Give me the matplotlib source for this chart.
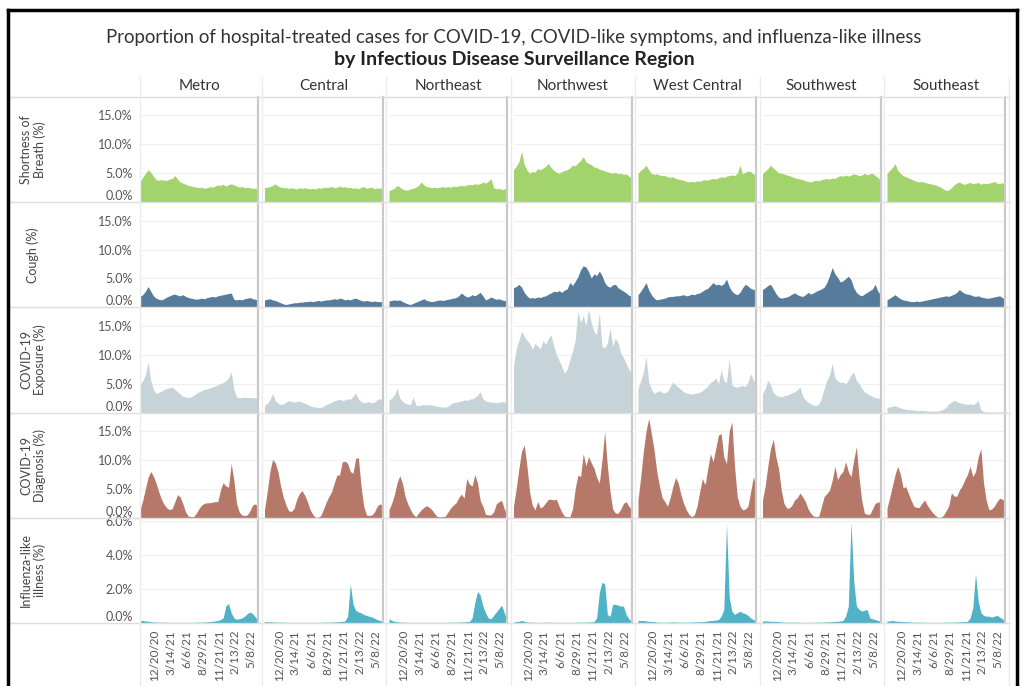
import matplotlib
matplotlib.use("Agg")
import matplotlib.pyplot as plt
from matplotlib.lines import Line2D
import pandas as pd

plt.rcParams['font.family'] = ['Lato', 'DejaVu Sans']

# ---------------- data ----------------
regions = ["Metro", "Central", "Northeast", "Northwest", "West Central", "Southwest", "Southeast"]
measure_labels = ["Shortness of\nBreath (%)", "Cough (%)", "COVID-19\nExposure (%)",
                  "COVID-19\nDiagnosis (%)", "Influenza-like\nillness (%)"]
dates = pd.date_range("2020-10-04", periods=45, freq="14D")
tick_dates = pd.to_datetime(["2020-12-20", "2021-03-14", "2021-06-06", "2021-08-29",
                             "2021-11-21", "2022-02-13", "2022-05-08"])
tick_labels = ["12/20/20", "3/14/21", "6/6/21", "8/29/21", "11/21/21", "2/13/22", "5/8/22"]
y_ticks_main = [0, 5, 10, 15]
y_ticks_ili = [0, 2, 4, 6]

# Shortness of breath (%)
sob_metro = [3.5, 4.3, 5.0, 5.6, 5.2, 4.5, 3.9, 3.8, 3.9, 3.8, 3.8, 4.0, 4.1, 4.6, 4.0, 3.5, 3.3, 3.1, 2.9, 2.8, 2.7, 2.6, 2.5, 2.6, 2.4, 2.5, 2.7, 2.6, 2.8, 3.0, 2.9, 3.1, 2.8, 3.0, 3.2, 3.0, 2.8, 2.6, 2.7, 2.5, 2.6, 2.5, 2.4, 2.4, 2.3]
sob_central = [2.5, 2.6, 2.7, 2.9, 3.2, 2.8, 2.6, 2.5, 2.5, 2.4, 2.5, 2.4, 2.3, 2.5, 2.4, 2.5, 2.4, 2.3, 2.4, 2.3, 2.5, 2.4, 2.6, 2.5, 2.6, 2.7, 2.5, 2.6, 2.8, 2.6, 2.7, 2.5, 2.6, 2.4, 2.5, 2.3, 2.6, 2.7, 2.4, 2.5, 2.6, 2.3, 2.5, 2.4, 2.5]
sob_northeast = [2.0, 2.2, 2.4, 2.9, 2.6, 2.3, 2.1, 2.1, 2.3, 2.4, 2.6, 2.9, 3.5, 3.0, 2.7, 2.6, 2.5, 2.6, 2.5, 2.6, 2.7, 2.6, 2.7, 2.6, 2.8, 2.7, 2.8, 2.9, 2.8, 3.0, 3.1, 3.0, 3.2, 3.1, 3.2, 3.5, 3.3, 3.6, 4.1, 2.5, 2.3, 2.4, 2.2, 2.3, 2.3]
sob_northwest = [5.6, 6.2, 7.0, 8.8, 6.5, 5.6, 5.0, 5.3, 5.2, 5.8, 5.6, 5.9, 6.2, 6.7, 6.0, 5.5, 5.2, 5.0, 5.3, 5.5, 5.6, 5.9, 6.4, 6.3, 6.8, 7.2, 7.9, 7.0, 6.7, 6.5, 6.1, 6.0, 5.7, 5.6, 5.4, 5.3, 5.1, 5.0, 5.2, 4.9, 5.0, 4.8, 4.9, 4.5, 4.1]
sob_westcentral = [5.0, 5.5, 5.9, 6.4, 5.6, 5.0, 4.8, 4.9, 4.7, 4.6, 4.6, 4.4, 4.3, 4.4, 4.1, 4.0, 3.9, 3.8, 3.6, 3.5, 3.6, 3.5, 3.7, 3.6, 3.8, 3.9, 3.8, 4.0, 4.1, 4.0, 4.2, 4.4, 4.3, 4.5, 4.6, 4.7, 4.6, 5.0, 6.4, 4.9, 5.2, 5.4, 5.3, 4.9, 4.5]
sob_southwest = [5.0, 5.4, 5.8, 6.4, 5.9, 5.5, 5.1, 5.0, 4.9, 4.7, 4.6, 4.4, 4.2, 4.1, 4.0, 3.9, 3.7, 3.6, 3.5, 3.7, 3.8, 3.7, 3.9, 4.0, 4.1, 4.0, 4.2, 4.1, 4.4, 4.6, 4.5, 4.7, 4.5, 4.7, 4.9, 4.8, 4.6, 4.7, 5.0, 4.7, 4.9, 5.0, 4.6, 4.3, 3.8]
sob_southeast = [5.0, 5.5, 6.0, 6.7, 5.5, 5.0, 4.6, 4.4, 4.2, 4.0, 3.8, 3.6, 3.5, 3.6, 3.4, 3.3, 3.2, 3.1, 3.0, 2.8, 2.6, 2.3, 2.0, 2.1, 2.5, 3.0, 3.3, 3.5, 3.2, 3.1, 3.3, 3.4, 3.2, 3.3, 3.4, 3.1, 3.3, 3.2, 3.3, 3.4, 3.6, 3.3, 3.2, 3.4, 2.9]

# Cough (%)
cough_metro = [1.9, 2.2, 2.8, 3.6, 2.8, 2.0, 1.6, 1.4, 1.3, 1.5, 1.8, 2.0, 2.2, 2.3, 2.1, 2.0, 2.2, 1.9, 1.7, 1.6, 1.5, 1.4, 1.5, 1.6, 1.5, 1.7, 1.8, 1.9, 1.8, 2.0, 2.1, 2.2, 2.3, 2.4, 2.5, 1.4, 1.3, 1.4, 1.3, 1.5, 1.6, 1.7, 1.5, 1.4, 1.3]
cough_central = [1.3, 1.4, 1.5, 1.3, 1.2, 1.0, 0.8, 0.6, 0.5, 0.6, 0.7, 0.8, 0.8, 0.9, 0.9, 1.0, 1.0, 1.1, 1.0, 1.1, 1.2, 1.1, 1.2, 1.3, 1.3, 1.4, 1.5, 1.4, 1.6, 1.5, 1.3, 1.4, 1.3, 1.5, 1.6, 1.4, 1.2, 1.1, 1.2, 1.1, 1.0, 1.1, 1.0, 1.0, 1.0]
cough_northeast = [1.1, 1.2, 1.3, 1.2, 1.3, 1.0, 0.8, 0.6, 0.5, 0.7, 0.9, 1.1, 1.3, 1.5, 1.2, 1.1, 1.0, 1.1, 1.2, 1.3, 1.2, 1.3, 1.4, 1.5, 1.6, 1.7, 2.0, 2.5, 2.1, 1.8, 1.9, 2.2, 2.0, 2.3, 2.6, 2.0, 1.3, 1.5, 1.8, 1.6, 1.4, 1.5, 1.3, 1.2, 1.1]
cough_northwest = [3.4, 3.6, 4.0, 3.5, 2.6, 2.0, 1.6, 1.7, 1.6, 1.8, 1.7, 1.9, 2.0, 2.3, 2.5, 2.8, 2.7, 2.9, 2.6, 3.0, 3.2, 4.3, 3.8, 4.5, 5.3, 6.5, 7.2, 7.0, 6.2, 5.1, 5.8, 5.5, 6.3, 5.5, 4.3, 3.7, 3.5, 3.9, 4.0, 3.4, 3.1, 2.8, 2.5, 2.1, 1.9]
cough_westcentral = [2.2, 2.8, 3.5, 4.3, 3.0, 2.2, 1.6, 1.3, 1.4, 1.5, 1.6, 1.8, 1.9, 1.9, 2.0, 2.0, 2.1, 2.2, 2.0, 2.1, 2.3, 2.2, 2.4, 2.5, 2.8, 3.1, 3.3, 3.8, 4.3, 3.9, 4.0, 3.8, 4.1, 4.9, 3.6, 2.8, 2.4, 2.2, 2.6, 3.4, 4.0, 3.7, 3.3, 3.1, 3.0]
cough_southwest = [3.1, 3.4, 3.8, 4.0, 3.2, 2.4, 1.8, 1.6, 1.7, 1.8, 2.0, 2.3, 2.5, 2.2, 2.0, 1.9, 2.2, 2.6, 2.3, 2.5, 2.8, 3.0, 3.2, 3.5, 4.3, 5.5, 6.9, 5.8, 5.2, 4.4, 4.6, 5.0, 5.4, 4.8, 3.4, 2.6, 2.2, 2.0, 2.3, 2.6, 2.9, 3.2, 4.0, 2.8, 2.2]
cough_southeast = [1.3, 1.6, 1.9, 2.2, 1.8, 1.5, 1.3, 1.2, 1.1, 1.0, 1.0, 1.1, 1.0, 1.1, 1.2, 1.3, 1.4, 1.5, 1.6, 1.7, 1.8, 1.9, 2.0, 1.9, 2.1, 2.3, 2.6, 3.1, 2.7, 2.4, 2.3, 2.2, 2.0, 1.9, 2.0, 1.8, 1.7, 1.6, 1.6, 1.7, 1.8, 1.9, 2.0, 1.7, 1.4]

# COVID-19 exposure (%)
exp_metro = [5.0, 5.5, 6.5, 8.8, 5.6, 4.0, 3.3, 3.5, 3.7, 4.0, 4.2, 4.3, 4.4, 4.0, 3.6, 3.2, 2.8, 2.7, 2.6, 2.7, 3.0, 3.3, 3.6, 3.8, 4.0, 4.1, 4.3, 4.4, 4.6, 4.8, 5.0, 5.2, 5.5, 6.0, 7.1, 4.0, 2.7, 2.6, 2.6, 2.7, 2.6, 2.6, 2.6, 2.5, 2.6]
exp_central = [1.2, 1.6, 2.2, 3.3, 2.1, 1.6, 1.4, 1.5, 1.8, 2.1, 1.9, 1.8, 1.9, 2.0, 1.8, 1.6, 1.4, 1.2, 1.0, 1.0, 0.9, 0.9, 1.1, 1.4, 1.6, 1.8, 2.0, 2.2, 2.3, 2.1, 2.2, 2.4, 2.3, 2.8, 3.4, 2.4, 1.9, 1.7, 1.8, 1.9, 1.7, 1.8, 2.2, 2.4, 2.3]
exp_northeast = [2.1, 2.5, 3.0, 4.2, 2.5, 2.0, 1.6, 1.5, 1.4, 2.7, 1.3, 1.2, 1.3, 1.4, 1.3, 1.4, 1.3, 1.2, 1.1, 1.0, 1.0, 0.9, 1.1, 1.5, 1.7, 1.8, 1.9, 2.0, 2.2, 2.1, 2.3, 2.4, 2.6, 3.0, 3.6, 2.4, 2.0, 1.9, 1.8, 1.8, 1.7, 1.8, 1.9, 1.8, 1.7]
exp_northwest = [8.0, 11.0, 12.5, 14.1, 13.2, 12.5, 12.0, 11.0, 12.0, 11.5, 11.0, 12.5, 11.8, 12.8, 13.5, 11.5, 10.0, 9.0, 8.0, 6.8, 7.5, 9.1, 10.6, 12.5, 17.6, 15.6, 16.8, 15.0, 17.9, 15.5, 14.0, 13.5, 17.3, 11.5, 11.2, 12.0, 14.7, 11.5, 12.9, 12.0, 10.3, 9.5, 8.5, 7.5, 6.8]
exp_westcentral = [4.2, 5.5, 7.0, 9.7, 5.3, 4.0, 3.3, 3.6, 3.8, 3.5, 3.4, 3.7, 4.5, 5.3, 4.8, 4.4, 4.0, 3.6, 3.4, 3.3, 3.2, 3.3, 3.4, 3.5, 3.8, 4.2, 4.6, 5.2, 5.5, 6.0, 5.0, 7.4, 5.5, 5.2, 9.4, 4.8, 4.5, 4.4, 4.6, 4.7, 4.5, 5.2, 6.8, 5.5, 5.6]
exp_southwest = [3.3, 4.2, 5.6, 4.8, 3.5, 3.0, 2.8, 2.7, 2.9, 3.0, 3.2, 3.4, 3.6, 4.0, 4.4, 2.8, 2.2, 1.8, 1.5, 1.3, 1.2, 1.5, 2.5, 4.2, 5.6, 6.5, 8.5, 6.0, 5.5, 5.2, 5.3, 5.0, 5.6, 6.5, 7.1, 5.5, 5.0, 4.2, 3.6, 3.3, 3.0, 2.8, 2.6, 2.5, 2.5]
exp_southeast = [0.9, 1.0, 1.1, 1.2, 1.0, 0.8, 0.7, 0.6, 0.5, 0.5, 0.4, 0.4, 0.3, 0.4, 0.3, 0.3, 0.2, 0.3, 0.2, 0.3, 0.4, 0.6, 0.9, 1.5, 1.8, 2.1, 1.9, 1.7, 1.6, 1.5, 1.4, 1.5, 1.4, 1.6, 2.1, 0.5, 0.2, 0.1, 0.1, 0.1, 0.1, 0.1, 0.1, 0.1, 0.1]

# COVID-19 diagnosis (%)
diag_metro = [1.4, 3.0, 5.0, 7.0, 8.0, 7.2, 6.0, 4.5, 3.2, 2.3, 1.7, 1.4, 1.6, 2.8, 4.0, 3.6, 2.4, 1.0, 0.3, 0.2, 0.2, 0.8, 1.6, 2.2, 2.5, 2.6, 2.6, 2.7, 2.8, 2.8, 4.8, 6.1, 5.5, 5.3, 9.4, 6.5, 2.5, 1.0, 0.5, 0.4, 0.5, 1.2, 2.2, 2.4, 1.9]
diag_central = [1.4, 4.5, 8.0, 10.1, 9.5, 8.0, 5.5, 3.6, 2.2, 1.2, 1.1, 1.6, 3.2, 4.2, 4.7, 3.9, 2.8, 1.4, 0.6, 0.1, 0.1, 0.4, 1.5, 2.7, 3.7, 4.5, 6.0, 7.4, 7.4, 9.7, 9.8, 9.4, 8.0, 7.7, 10.3, 10.4, 5.5, 2.0, 0.5, 0.4, 0.5, 1.0, 2.0, 2.4, 2.2]
diag_northeast = [1.4, 2.5, 4.0, 6.0, 7.3, 6.0, 3.7, 2.4, 1.4, 0.6, 0.2, 0.8, 1.4, 1.8, 2.1, 1.8, 1.4, 0.7, 0.2, 0.2, 0.2, 0.3, 1.0, 1.7, 2.2, 2.6, 3.5, 4.1, 3.4, 6.8, 5.8, 5.5, 7.5, 6.0, 3.0, 2.0, 0.6, 0.5, 0.5, 1.0, 2.4, 2.8, 3.0, 1.5, 0.6]
diag_northwest = [2.0, 5.0, 8.5, 11.5, 12.6, 9.0, 4.5, 2.2, 1.4, 2.8, 1.7, 2.0, 2.6, 3.2, 3.2, 3.1, 3.2, 2.0, 1.0, 0.3, 0.2, 0.2, 1.5, 5.0, 7.4, 7.1, 11.1, 9.0, 10.6, 9.5, 8.6, 7.0, 6.0, 10.0, 14.9, 9.0, 4.5, 1.5, 0.8, 0.8, 1.5, 2.5, 2.8, 2.0, 1.5]
diag_westcentral = [3.1, 7.0, 11.5, 15.0, 17.2, 14.5, 11.7, 8.0, 5.5, 3.5, 2.8, 2.0, 3.5, 5.4, 7.0, 6.0, 4.0, 2.5, 1.4, 0.6, 0.2, 0.5, 2.0, 4.5, 6.8, 5.7, 8.5, 11.1, 9.7, 12.0, 14.3, 14.6, 10.5, 9.4, 15.0, 16.6, 8.9, 3.7, 2.0, 1.4, 1.5, 2.0, 4.5, 7.1, 5.4]
diag_southwest = [3.1, 5.5, 9.0, 12.0, 13.6, 10.5, 8.5, 4.8, 2.5, 1.7, 1.7, 2.2, 3.1, 3.5, 4.3, 3.6, 2.8, 1.5, 0.8, 0.3, 0.2, 0.3, 2.0, 3.7, 4.2, 4.8, 6.5, 8.9, 6.6, 7.5, 8.0, 9.7, 8.0, 7.1, 10.0, 12.3, 7.0, 3.0, 0.8, 0.6, 0.6, 1.5, 2.5, 2.7, 2.8]
diag_southeast = [1.7, 3.5, 5.5, 7.5, 8.9, 7.5, 5.2, 5.4, 4.2, 3.0, 2.0, 1.8, 1.8, 2.5, 3.1, 2.2, 1.5, 0.9, 0.4, 0.1, 0.1, 0.4, 1.2, 2.0, 4.3, 3.8, 3.7, 4.8, 5.5, 6.6, 7.5, 8.9, 7.1, 8.0, 10.5, 12.0, 6.0, 3.0, 1.4, 1.5, 2.0, 2.8, 3.4, 3.2, 3.0]

# Influenza-like illness (%)
ili_metro = [0.15, 0.15, 0.12, 0.10, 0.08, 0.06, 0.05, 0.05, 0.05, 0.05, 0.04, 0.04, 0.04, 0.04, 0.04, 0.04, 0.04, 0.04, 0.04, 0.04, 0.04, 0.05, 0.05, 0.05, 0.06, 0.07, 0.08, 0.10, 0.12, 0.15, 0.20, 0.30, 1.00, 1.15, 0.60, 0.30, 0.22, 0.25, 0.30, 0.40, 0.55, 0.65, 0.55, 0.35, 0.20]
ili_central = [0.08, 0.08, 0.07, 0.07, 0.06, 0.05, 0.05, 0.05, 0.04, 0.04, 0.04, 0.04, 0.04, 0.04, 0.04, 0.04, 0.04, 0.04, 0.04, 0.04, 0.04, 0.04, 0.05, 0.05, 0.05, 0.06, 0.06, 0.07, 0.08, 0.10, 0.12, 0.40, 2.30, 1.10, 0.75, 0.65, 0.60, 0.50, 0.45, 0.40, 0.35, 0.28, 0.20, 0.15, 0.10]
ili_northeast = [0.25, 0.15, 0.10, 0.08, 0.06, 0.05, 0.05, 0.04, 0.04, 0.04, 0.04, 0.04, 0.04, 0.04, 0.04, 0.04, 0.04, 0.04, 0.04, 0.04, 0.04, 0.04, 0.04, 0.05, 0.05, 0.05, 0.06, 0.06, 0.07, 0.08, 0.10, 0.30, 1.20, 1.85, 1.65, 1.00, 0.60, 0.30, 0.25, 0.45, 0.65, 0.85, 1.05, 0.60, 0.20]
ili_northwest = [0.06, 0.08, 0.10, 0.15, 0.10, 0.06, 0.05, 0.05, 0.04, 0.04, 0.04, 0.04, 0.05, 0.05, 0.04, 0.04, 0.04, 0.04, 0.04, 0.04, 0.04, 0.04, 0.04, 0.04, 0.05, 0.05, 0.05, 0.06, 0.06, 0.07, 0.08, 0.30, 1.80, 2.40, 2.30, 0.50, 0.40, 1.10, 1.10, 1.05, 1.00, 1.00, 0.50, 0.25, 0.10]
ili_westcentral = [0.15, 0.15, 0.15, 0.12, 0.10, 0.10, 0.08, 0.06, 0.05, 0.05, 0.05, 0.05, 0.06, 0.07, 0.06, 0.05, 0.05, 0.05, 0.04, 0.05, 0.06, 0.06, 0.07, 0.07, 0.08, 0.10, 0.12, 0.15, 0.15, 0.18, 0.20, 0.40, 0.80, 5.85, 1.50, 0.70, 0.50, 0.60, 0.70, 0.60, 0.55, 0.45, 0.30, 0.20, 0.15]
ili_southwest = [0.12, 0.12, 0.12, 0.10, 0.10, 0.10, 0.08, 0.06, 0.05, 0.05, 0.05, 0.05, 0.05, 0.05, 0.04, 0.04, 0.04, 0.04, 0.04, 0.04, 0.05, 0.05, 0.05, 0.06, 0.06, 0.07, 0.08, 0.10, 0.10, 0.12, 0.15, 0.40, 1.00, 5.95, 2.50, 1.00, 0.80, 0.70, 0.75, 0.80, 0.30, 0.25, 0.20, 0.15, 0.10]
ili_southeast = [0.12, 0.12, 0.15, 0.12, 0.10, 0.10, 0.08, 0.08, 0.06, 0.06, 0.05, 0.05, 0.05, 0.05, 0.04, 0.04, 0.04, 0.04, 0.04, 0.04, 0.04, 0.04, 0.05, 0.05, 0.05, 0.06, 0.06, 0.07, 0.08, 0.08, 0.10, 0.30, 0.90, 2.90, 1.30, 0.60, 0.45, 0.40, 0.40, 0.35, 0.40, 0.45, 0.35, 0.25, 0.12]

rows = [
    [sob_metro, sob_central, sob_northeast, sob_northwest, sob_westcentral, sob_southwest, sob_southeast],
    [cough_metro, cough_central, cough_northeast, cough_northwest, cough_westcentral, cough_southwest, cough_southeast],
    [exp_metro, exp_central, exp_northeast, exp_northwest, exp_westcentral, exp_southwest, exp_southeast],
    [diag_metro, diag_central, diag_northeast, diag_northwest, diag_westcentral, diag_southwest, diag_southeast],
    [ili_metro, ili_central, ili_northeast, ili_northwest, ili_westcentral, ili_southwest, ili_southeast],
]
colors = ["#a3d36c", "#567b9b", "#c6d4d9", "#b67869", "#4fb2c6"]

# ---------------- layout (pixels) ----------------
W, H = 1025, 686
fig = plt.figure(figsize=(W / 100, H / 100), dpi=100)
fig.patch.set_facecolor("white")

col_left0, col_step, panel_w = 140, 124.5, 118
row_top0, row_h = 97, 105.2


def fx(x):
    return x / W


def fy(y):
    return 1 - y / H


grid_c = "#efefef"
sep_c = "#dedede"

for r in range(5):
    top = row_top0 + r * row_h
    for c in range(7):
        left = col_left0 + c * col_step
        ax = fig.add_axes([fx(left), fy(top + row_h), panel_w / W, row_h / H])
        ax.fill_between(dates, rows[r][c], 0, color=colors[r], linewidth=0)
        ax.set_xlim(dates[0], dates[-1])
        if r < 4:
            ax.set_ylim(0, 18.2)
            yt = y_ticks_main
        else:
            ax.set_ylim(0, 6.2)
            yt = y_ticks_ili
        ax.set_yticks(yt)
        ax.grid(axis="y", color=grid_c, linewidth=0.8)
        ax.set_axisbelow(True)
        for s in ["top", "left", "bottom"]:
            ax.spines[s].set_visible(False)
        ax.spines["right"].set_color("#c9c9c9")
        ax.spines["right"].set_linewidth(1.6)
        ax.tick_params(length=0)
        ax.set_xticks(tick_dates)
        if r == 4:
            ax.set_xticklabels(tick_labels, rotation=90, fontsize=8.5, color="#555555")
            ax.tick_params(axis="x", pad=5)
        else:
            ax.set_xticklabels([])
        if c == 0:
            ax.set_yticklabels(["%.1f%%" % v for v in yt], fontsize=9, color="#555555")
            ax.tick_params(axis="y", pad=5)
            ax.get_yticklabels()[0].set_va("bottom")
        else:
            ax.set_yticklabels([])
    fig.text(fx(33), fy(top + row_h / 2), measure_labels[r], rotation=90,
             ha="center", va="center", fontsize=9, color="#444444",
             multialignment="center", linespacing=1.15)

# separators
for k in range(6):
    y = row_top0 + k * row_h
    fig.add_artist(Line2D([fx(10), fx(1010)], [fy(y), fy(y)], color=sep_c, lw=1.0))
for c in range(8):
    x = col_left0 + c * col_step - (3 if c > 0 else 0)
    fig.add_artist(Line2D([fx(x), fx(x)], [fy(77), fy(686)], color="#ebebeb", lw=1.0))

# frame
fig.add_artist(Line2D([fx(8), fx(8)], [fy(10), fy(690)], color="black", lw=2.5))
fig.add_artist(Line2D([fx(8), fx(1017)], [fy(10), fy(10)], color="black", lw=2.5))
fig.add_artist(Line2D([fx(1017), fx(1017)], [fy(10), fy(690)], color="black", lw=2.5))

# titles
fig.text(fx(514), fy(38), "Proportion of hospital-treated cases for COVID-19, COVID-like symptoms, and influenza-like illness",
         ha="center", va="center", fontsize=13.4, color="#333333")
fig.text(fx(514), fy(60), "by Infectious Disease Surveillance Region",
         ha="center", va="center", fontsize=14, fontweight="bold", color="#222222")

for c, name in enumerate(regions):
    fig.text(fx(col_left0 + c * col_step + panel_w / 2), fy(86), name,
             ha="center", va="center", fontsize=11, color="#333333")

fig.savefig("out.png", dpi=100)
